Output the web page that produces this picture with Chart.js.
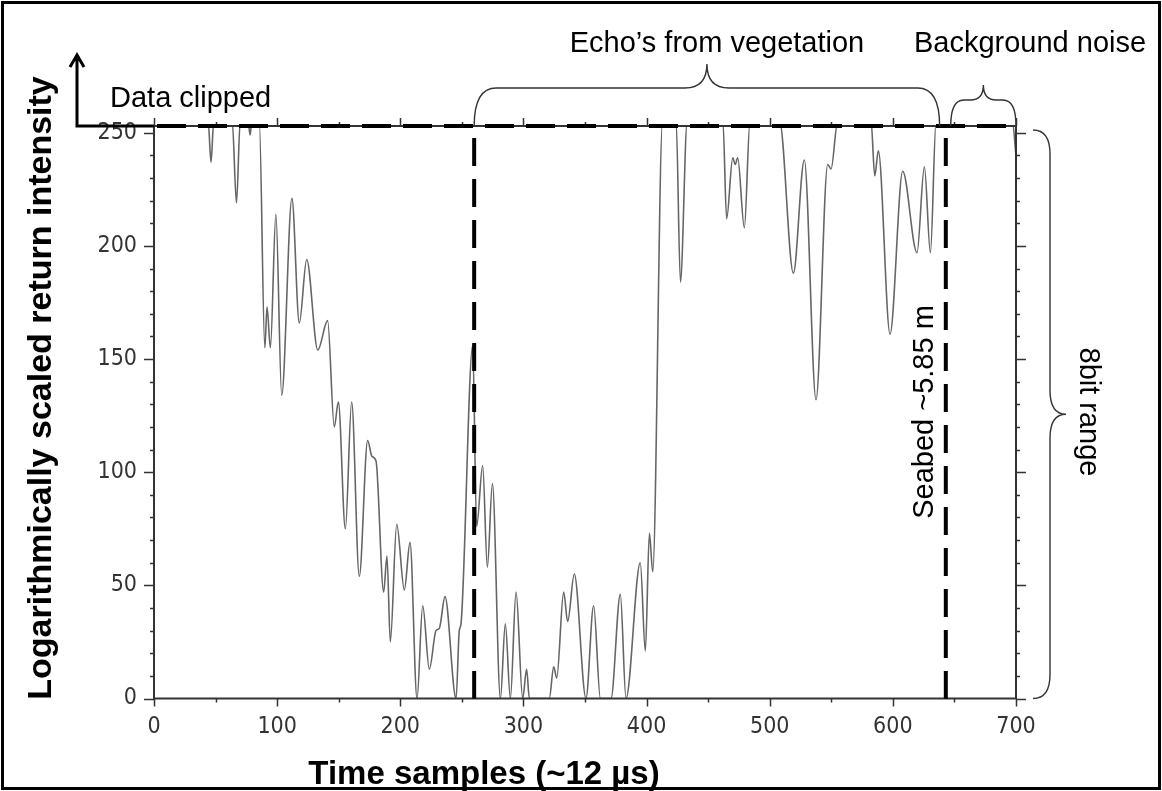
<!DOCTYPE html>
<html><head><meta charset="utf-8">
<script src="https://cdn.jsdelivr.net/npm/chart.js@4.4.1/dist/chart.umd.min.js"></script>
<style>html,body{margin:0;padding:0;background:#fff}canvas{display:block}</style>
</head><body>
<canvas id="c" width="1162" height="791"></canvas>
<script>
// ---- data ----
const sampleX = [0,44,46.3,48.5,63.5,67,70,76.5,78,79.5,85.5,90,91.8,94.5,99,103.7,112,118,124,133,141,146.4,149.7,155.4,160.5,166.7,173.5,177,180.3,186.5,189.2,191.9,197.1,203.3,207.9,213.6,218.2,223.6,229,231.7,236.3,245.3,247.9,249.3,258.8,262,266.9,270.7,274.8,281.3,285.3,289.4,294,299.4,302.6,304.8,321,324.6,327,332.7,335.9,341.3,350.8,357,362.5,371.1,378.7,383.3,394.9,399,402.3,405,413,424,427.5,433,462,465,470,472,474,479.4,484,508,519.2,528.1,537.6,547.1,549.8,555.2,582.3,585.3,588.2,597.7,608,619.6,625.6,630.5,635.1,697,700];
const intensity = [255,255,237,255,255,219,255,255,249,255,255,155,173,155,214,134,221,166,194,154,167,120,131,75,131,54,114,107,105,47,63,25,77,48,69,0,41,13,30,31,45,0,30,33,156,76,103,58,95,0,33,0,47,0,13,0,0,14,9,47,34,55,0,41,0,0,46,0,60,21,73,56,255,255,184,255,255,212,239,236,239,208,255,255,188,238,132,236,234,255,255,231,242,161,233,197,235,197,255,255,240];
const xTickValues = [0,100,200,300,400,500,600,700];
const yTickValues = [0,50,100,150,200,250];
const markerSamples = [260, 643];     // vegetation start, seabed
const clipLevel = 253;                 // top of the 8-bit display range
const annotationTexts = {
  veg: "Echo\u2019s from vegetation",
  noise: "Background noise",
  clipped: "Data clipped",
  seabed: "Seabed ~5.85 m",
  range: "8bit range",
  xTitle: "Time samples (~12 \u00b5s)",
  yTitle: "Logarithmically scaled return intensity"
};

const points = sampleX.map((x, i) => ({x: x, y: intensity[i]}));

function brace(ctx, x1, x2, yb, yl, yt) {
  const xm = (x1 + x2) / 2;
  const r = Math.min(22, (x2 - x1) / 5);
  ctx.beginPath();
  ctx.moveTo(x1, yb);
  ctx.quadraticCurveTo(x1, yl, x1 + r, yl);
  ctx.lineTo(xm - r, yl);
  ctx.quadraticCurveTo(xm, yl, xm, yt);
  ctx.quadraticCurveTo(xm, yl, xm + r, yl);
  ctx.lineTo(x2 - r, yl);
  ctx.quadraticCurveTo(x2, yl, x2, yb);
  ctx.stroke();
}
function vbrace(ctx, y1, y2, xe, xl, xt) {
  const ym = (y1 + y2) / 2;
  const r = 24;
  ctx.beginPath();
  ctx.moveTo(xe, y1);
  ctx.quadraticCurveTo(xl, y1, xl, y1 + r);
  ctx.lineTo(xl, ym - r);
  ctx.quadraticCurveTo(xl, ym, xt, ym);
  ctx.quadraticCurveTo(xl, ym, xl, ym + r);
  ctx.lineTo(xl, y2 - r);
  ctx.quadraticCurveTo(xl, y2, xe, y2);
  ctx.stroke();
}

const overlay = {
  id: 'overlay',
  afterDatasetsDraw(chart) {
    const ctx = chart.ctx, a = chart.chartArea, xs = chart.scales.x, ys = chart.scales.y;
    ctx.save();
    // frame
    ctx.strokeStyle = '#333';
    ctx.lineWidth = 2;
    ctx.strokeRect(a.left, a.top, a.right - a.left, a.bottom - a.top);
    // tick marks
    ctx.lineWidth = 1.5;
    ys.ticks.forEach(t => {
      if (t.value > 250) return;
      const py = Math.round(ys.getPixelForValue(t.value)) + 0.5;
      const len = t.value % 50 === 0 ? 10 : 4;
      ctx.beginPath();
      ctx.moveTo(a.left, py); ctx.lineTo(a.left - len, py);
      ctx.moveTo(a.right, py); ctx.lineTo(a.right + len, py);
      ctx.stroke();
    });
    xs.ticks.forEach(t => {
      const px = Math.round(xs.getPixelForValue(t.value)) + 0.5;
      const len = t.value % 100 === 0 ? 8 : 4;
      ctx.beginPath();
      ctx.moveTo(px, a.bottom); ctx.lineTo(px, a.bottom + len);
      ctx.moveTo(px, a.top); ctx.lineTo(px, a.top - len);
      ctx.stroke();
    });
    // dashed clip line and marker lines
    ctx.strokeStyle = '#000';
    ctx.lineWidth = 4;
    ctx.setLineDash([29, 12]);
    const ty = ys.getPixelForValue(clipLevel);
    ctx.lineDashOffset = -3;
    ctx.beginPath(); ctx.moveTo(a.left, ty); ctx.lineTo(a.right, ty); ctx.stroke();
    ctx.setLineDash([28, 13]);
    ctx.lineDashOffset = 29;
    markerSamples.forEach(s => {
      const px = xs.getPixelForValue(s);
      ctx.beginPath(); ctx.moveTo(px, a.top); ctx.lineTo(px, a.bottom); ctx.stroke();
    });
    ctx.setLineDash([]);
    // arrow "data clipped"
    ctx.lineWidth = 3;
    ctx.beginPath();
    ctx.moveTo(a.left, ty); ctx.lineTo(77, ty); ctx.lineTo(77, 56);
    ctx.moveTo(70, 67); ctx.lineTo(77, 55); ctx.lineTo(84, 67);
    ctx.stroke();
    // braces
    ctx.strokeStyle = '#333';
    ctx.lineWidth = 1.4;
    brace(ctx, xs.getPixelForValue(260), xs.getPixelForValue(638), ty, 88, 64);
    brace(ctx, xs.getPixelForValue(647), xs.getPixelForValue(700), ty, 100, 85);
    vbrace(ctx, ty + 4, a.bottom, 1033, 1050, 1066);
    // texts
    ctx.fillStyle = '#000';
    ctx.font = '29px "Liberation Sans", Arial, sans-serif';
    ctx.textBaseline = 'alphabetic';
    ctx.textAlign = 'center';
    ctx.fillText(annotationTexts.veg, 717, 52);
    ctx.fillText(annotationTexts.noise, 1030, 52);
    ctx.textAlign = 'left';
    ctx.fillText(annotationTexts.clipped, 110, 107);
    ctx.textAlign = 'center';
    ctx.save();
    ctx.translate(933, 412); ctx.rotate(-Math.PI / 2);
    ctx.fillText(annotationTexts.seabed, 0, 0);
    ctx.restore();
    ctx.save();
    ctx.translate(1080, 412); ctx.rotate(Math.PI / 2);
    ctx.fillText(annotationTexts.range, 0, 0);
    ctx.restore();
    ctx.font = 'bold 33px "Liberation Sans", Arial, sans-serif';
    ctx.fillText(annotationTexts.xTitle, 484, 784);
    ctx.save();
    ctx.translate(51, 388); ctx.rotate(-Math.PI / 2);
    ctx.font = 'bold 34px "Liberation Sans", Arial, sans-serif';
    ctx.fillText(annotationTexts.yTitle, 0, 0);
    ctx.restore();
    // outer border
    ctx.strokeStyle = '#000';
    ctx.lineWidth = 3;
    ctx.strokeRect(2.5, 2.5, 1157, 786);
    ctx.restore();
  }
};

const tickFont = {family: '"Liberation Sans Narrow", "DejaVu Sans Condensed", "Liberation Sans", sans-serif', size: 23};

new Chart(document.getElementById('c'), {
  type: 'line',
  data: {
    datasets: [{
      data: points,
      borderColor: '#666',
      borderWidth: 1.6,
      pointRadius: 0,
      fill: false,
      cubicInterpolationMode: 'monotone'
    }]
  },
  options: {
    responsive: false,
    animation: false,
    devicePixelRatio: 1,
    layout: {padding: {left: 0, right: 146, top: 126, bottom: 0}},
    plugins: {legend: {display: false}, tooltip: {enabled: false}},
    scales: {
      x: {
        type: 'linear', min: 0, max: 700,
        grid: {display: false, drawTicks: false},
        border: {display: false},
        afterFit: s => { s.height = 92.5; },
        ticks: {
          stepSize: 50, autoSkip: false, maxRotation: 0, padding: 15,
          color: '#333', font: tickFont,
          callback: v => xTickValues.includes(v) ? String(v) : ''
        }
      },
      y: {
        type: 'linear', min: 0, max: clipLevel,
        grid: {display: false, drawTicks: false},
        border: {display: false},
        afterFit: s => { s.width = 154; },
        ticks: {
          stepSize: 10, autoSkip: false, includeBounds: false, padding: 17,
          color: '#333', font: tickFont,
          callback: v => yTickValues.includes(v) ? String(v) : ''
        }
      }
    }
  },
  plugins: [overlay]
});
</script>
</body></html>
